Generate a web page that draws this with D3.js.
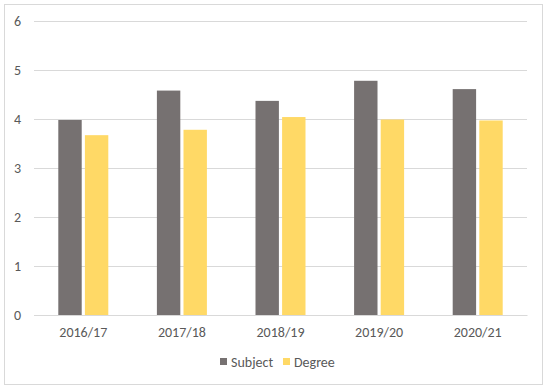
<!DOCTYPE html>
<html><head><meta charset="utf-8">
<script src="https://cdn.jsdelivr.net/npm/d3@7"></script>
<style>body{margin:0;background:#fff;}svg{display:block;}</style>
</head><body>
<svg id="c" width="550" height="390"></svg>
<script>
const categories = ["2016/17","2017/18","2018/19","2019/20","2020/21"];
const seriesNames = ["Subject","Degree"];
const subject = [3.98,4.58,4.37,4.78,4.61];
const degree = [3.67,3.78,4.04,3.99,3.97];
const yTicks = [0,1,2,3,4,5,6];
const colors = ["#767171","#FFD966"];

const svg = d3.select("#c");
const font = "Carlito, Calibri, 'Liberation Sans', sans-serif";
svg.append("rect").attr("x",4.5).attr("y",4.5).attr("width",538).attr("height",380)
  .attr("fill","#fff").attr("stroke","#d9d9d9").attr("stroke-width",1);

const L=34, R=527, T=21, B=315;
const x = d3.scaleBand().domain(categories).range([L,R]).paddingInner(0).paddingOuter(0);
const y = d3.scaleLinear().domain([0,6]).range([B,T]);
const xs = d3.scaleBand().domain(seriesNames).range([0,50]).paddingInner(0.12);

const yAxis = d3.axisLeft(y).tickValues(yTicks).tickFormat(d3.format("d")).tickSize(-(R-L)).tickPadding(13);
const gy = svg.append("g").attr("transform",`translate(${L},0)`).call(yAxis);
gy.select(".domain").remove();
gy.selectAll(".tick line").attr("stroke","#d9d9d9").attr("stroke-width",1);
gy.selectAll(".tick text").attr("fill","#595959").style("font-family",font).style("font-size","14px");

const data = categories.map((c,i)=>({c, vals:[subject[i],degree[i]]}));
const g = svg.append("g");
data.forEach(d=>{
  d.vals.forEach((v,j)=>{
    g.append("rect")
      .attr("x", x(d.c)+x.bandwidth()/2-25+xs(seriesNames[j]))
      .attr("y", y(v)).attr("width", xs.bandwidth()).attr("height", y(0)-y(v))
      .attr("fill", colors[j]);
  });
});

const xAxis = d3.axisBottom(x).tickSize(0).tickPadding(12);
const gx = svg.append("g").attr("transform",`translate(0,${B})`).call(xAxis);
gx.select(".domain").attr("stroke","#d9d9d9");
gx.selectAll(".tick text").attr("fill","#595959").style("font-family",font).style("font-size","14px");

const legendX = [220, 283];
seriesNames.forEach((s,j)=>{
  svg.append("rect").attr("x",legendX[j]).attr("y",358).attr("width",7).attr("height",7).attr("fill",colors[j]);
  svg.append("text").attr("x",legendX[j]+11).attr("y",366.5).text(s)
    .attr("fill","#595959").style("font-family",font).style("font-size","14px");
});
</script>
</body></html>
